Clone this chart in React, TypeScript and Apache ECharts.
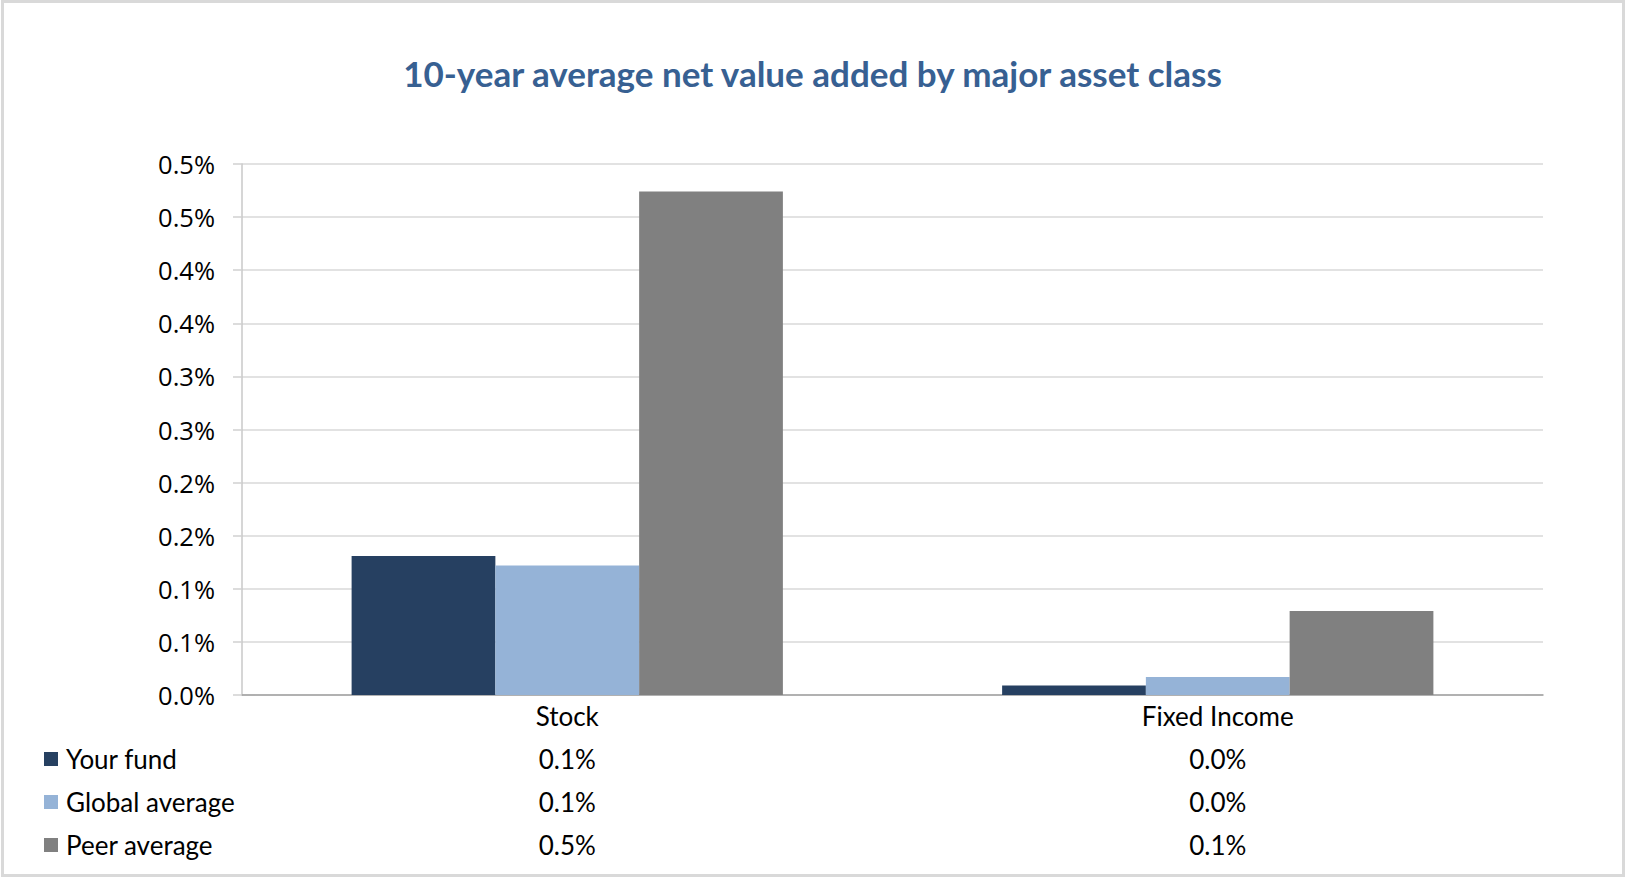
import React, { useEffect, useRef } from "react";
import * as echarts from "echarts";

const titleText = "10-year average net value added by major asset class";
const categories = ["Stock", "Fixed Income"];
const seriesNames = ["Your fund", "Global average", "Peer average"];
const yourFund = [0.131, 0.009];
const globalAverage = [0.122, 0.017];
const peerAverage = [0.474, 0.079];
const seriesColors = ["#264061", "#95B3D7", "#808080"];
const yMin = 0;
const yMax = 0.5;
const yInterval = 0.05;

const fmt = (v: number) => (Math.round(v * 10 + 1e-6) / 10).toFixed(1) + "%";

export default function App() {
  const ref = useRef<HTMLDivElement>(null);
  useEffect(() => {
    if (!ref.current) return;
    const chart = echarts.init(ref.current, null, { renderer: "svg" });
    const allSeries = [yourFund, globalAverage, peerAverage];
    chart.setOption({
      animation: false,
      backgroundColor: "#ffffff",
      title: {
        text: titleText,
        left: "center",
        top: 50,
        textStyle: {
          fontFamily: "Lato",
          fontWeight: "bold",
          fontSize: 35,
          color: "#376092",
        },
      },
      graphic: [
        {
          type: "rect",
          shape: { x: 2.5, y: 1.5, width: 1621, height: 874 },
          style: { fill: "none", stroke: "#D9D9D9", lineWidth: 3 },
          silent: true,
        },
      ],
      legend: {
        orient: "vertical",
        left: 44,
        top: 744,
        padding: 0,
        itemWidth: 14,
        itemHeight: 14,
        itemGap: 13,
        icon: "rect",
        data: seriesNames,
        textStyle: {
          fontFamily: "Lato",
          fontSize: 26,
          color: "#000000",
          lineHeight: 30,
          padding: [0, 0, 0, 3],
        },
      },
      grid: { left: 242, right: 82, top: 164, bottom: 182 },
      xAxis: {
        type: "category",
        data: categories,
        axisLine: { show: true, lineStyle: { color: "#A0A0A0", width: 1.5 } },
        axisTick: { show: false },
        axisLabel: {
          margin: -1,
          interval: 0,
          formatter: (value: string, idx: number) => {
            const lines = [`{c|${value}}`];
            allSeries.forEach((s) => lines.push(`{c|${fmt(s[idx])}}`));
            return lines.join("\n");
          },
          rich: {
            c: {
              fontFamily: "Lato",
              fontSize: 26,
              color: "#000000",
              lineHeight: 43,
            },
          },
        },
      },
      yAxis: {
        type: "value",
        min: yMin,
        max: yMax,
        interval: yInterval,
        axisLine: { show: true, lineStyle: { color: "#C8C8C8", width: 1.5 } },
        axisTick: { show: true, length: 9, lineStyle: { color: "#D0D0D0", width: 1.5 } },
        splitLine: { show: true, lineStyle: { color: "#D9D9D9", width: 1.5 } },
        axisLabel: {
          margin: 27,
          formatter: (v: number) => fmt(v),
          fontFamily: "Open Sans",
          fontSize: 25.5,
          color: "#000000",
        },
      },
      series: seriesNames.map((name, i) => ({
        name,
        type: "bar",
        data: allSeries[i],
        barGap: "0%",
        barCategoryGap: "33.7%",
        itemStyle: { color: seriesColors[i] },
      })),
    });
    return () => chart.dispose();
  }, []);
  return (
    <div
      ref={ref}
      style={{ position: "fixed", left: 0, top: 0, width: 1625, height: 877 }}
    />
  );
}
